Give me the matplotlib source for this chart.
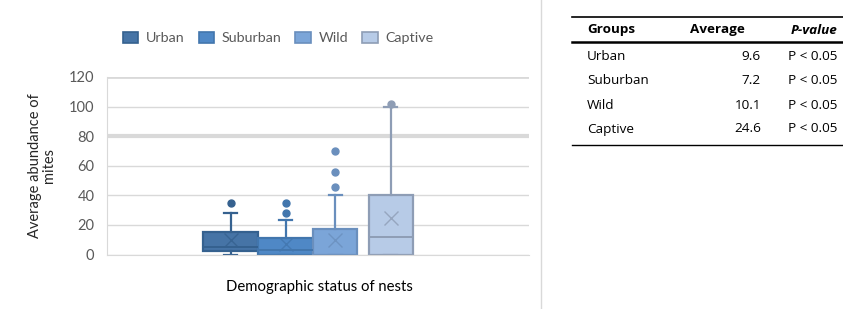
import matplotlib.pyplot as plt
from matplotlib.patches import Patch

groups = ['Urban', 'Suburban', 'Wild', 'Captive']
q1 = [2.5, 0, 0, 0]
medians = [5.0, 3.0, 0, 12.0]
q3 = [15.0, 11.0, 17.5, 40.0]
whisk_lo = [0, 0, 0, 0]
whisk_hi = [28.0, 23.5, 40.0, 100.0]
outliers = [[34.8], [27.8, 34.8], [45.3, 55.7, 69.7], [101.5]]
means = [9.6, 7.2, 10.1, 24.6]

table_avg = ['9.6', '7.2', '10.1', '24.6']
table_p = ['P < 0.05', 'P < 0.05', 'P < 0.05', 'P < 0.05']

fills = ['#4674a6', '#4f88c6', '#7ba5d8', '#b7cbe7']
edges = ['#35618f', '#4276ad', '#6a8fbd', '#8e9db5']

W, H = 843, 309
fig = plt.figure(figsize=(W / 100, H / 100), dpi=100)
plt.rcParams['font.family'] = ['Lato', 'DejaVu Sans']

# chart axes (pixel layout from the reference)
ax = fig.add_axes([107 / W, 1 - 254.5 / H, 422 / W, 177.5 / H])
positions = [123.5, 178.5, 228, 283.5]
widths = [55, 55, 44, 44]

for i, g in enumerate(groups):
    stats = [dict(label=g, q1=q1[i], med=medians[i], q3=q3[i],
                  whislo=whisk_lo[i], whishi=whisk_hi[i],
                  fliers=outliers[i], mean=means[i])]
    ax.bxp(stats, positions=[positions[i]], widths=[widths[i]],
           capwidths=[13], patch_artist=True, showmeans=True,
           boxprops=dict(facecolor=fills[i], edgecolor=edges[i], linewidth=1.6),
           medianprops=dict(color=edges[i], linewidth=1.4),
           whiskerprops=dict(color=edges[i], linewidth=1.6),
           capprops=dict(color=edges[i], linewidth=1.6),
           flierprops=dict(marker='o', markersize=5, markerfacecolor=edges[i],
                           markeredgecolor=edges[i]),
           meanprops=dict(marker='x', markersize=10, markeredgecolor=edges[i],
                          markeredgewidth=1.0, alpha=0.8))

ax.set_xlim(0, 422)
ax.set_ylim(0, 120)
ax.set_yticks(range(0, 121, 20))
ax.set_xticks([])
ax.yaxis.grid(True, color='#d9d9d9', linewidth=1)
ax.set_axisbelow(True)
for gl, tick in zip(ax.yaxis.get_gridlines(), range(0, 121, 20)):
    if tick == 80:
        gl.set_linewidth(3)
    elif tick == 120:
        gl.set_linewidth(2)
for s in ['top', 'right']:
    ax.spines[s].set_visible(False)
ax.spines['left'].set_color('#d9d9d9')
ax.spines['bottom'].set_color('#d9d9d9')
ax.tick_params(axis='y', length=0, pad=9, labelsize=10.5, labelcolor='#595959')

ax.set_ylabel('Average abundance of\nmites', fontsize=10.5, color='#262626',
              labelpad=9, linespacing=1.0)
fig.text(319 / W, 1 - 287 / H, 'Demographic status of nests', ha='center',
         va='center', fontsize=10.7, color='#000000')

handles = [Patch(facecolor=fills[i], edgecolor=edges[i], linewidth=1.2, label=g)
           for i, g in enumerate(groups)]
fig.legend(handles=handles, loc='center', ncol=4, frameon=False,
           bbox_to_anchor=(278 / W, 1 - 38 / H), fontsize=10.3,
           handlelength=1.1, handleheight=0.85, handletextpad=0.5,
           columnspacing=1.0, labelcolor='#595959')

# separator line
fig.add_artist(plt.Line2D([541 / W, 541 / W], [0, 1], color='#d9d9d9', linewidth=1))

# table on the right
tf = ['Open Sans', 'DejaVu Sans']
fig.add_artist(plt.Line2D([572 / W, 843 / W], [1 - 17 / H] * 2, color='black', linewidth=1.2))
fig.add_artist(plt.Line2D([572 / W, 843 / W], [1 - 42 / H] * 2, color='black', linewidth=1.8))
fig.add_artist(plt.Line2D([572 / W, 843 / W], [1 - 145 / H] * 2, color='black', linewidth=1.0))
fig.text(587 / W, 1 - 30 / H, 'Groups', fontsize=9.7, fontweight='bold', family=tf,
         ha='left', va='center')
fig.text(745 / W, 1 - 30 / H, 'Average', fontsize=9.7, fontweight='bold', family=tf,
         ha='right', va='center')
fig.text(837 / W, 1 - 30 / H, 'P-value', fontsize=9.7, fontweight='bold',
         fontstyle='italic', family=tf, ha='right', va='center')
row_y = [57, 81, 105, 129]
for g, a, p, y in zip(groups, table_avg, table_p, row_y):
    fig.text(587 / W, 1 - y / H, g, fontsize=9.7, family=tf, ha='left', va='center')
    fig.text(761 / W, 1 - y / H, a, fontsize=9.7, family=tf, ha='right', va='center')
    fig.text(837 / W, 1 - y / H, p, fontsize=9.7, family=tf, ha='right', va='center')

fig.savefig('out.png', dpi=100)
